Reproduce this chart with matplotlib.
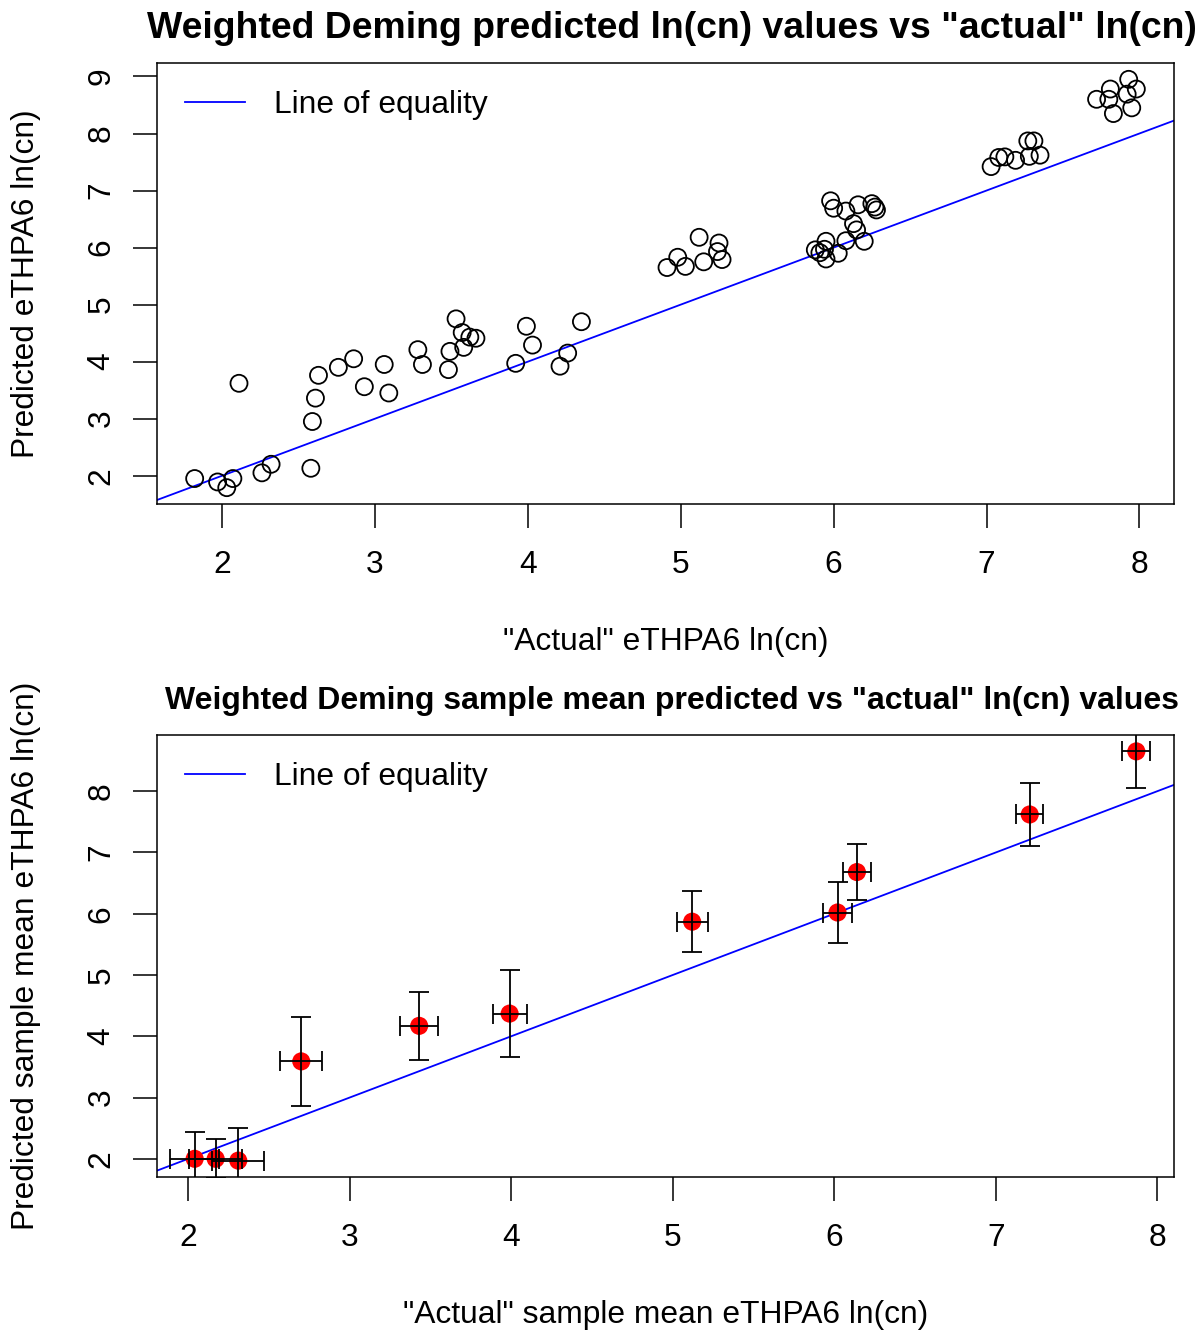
import numpy as np
import matplotlib.pyplot as plt

plt.rcParams['font.family'] = ['Liberation Sans', 'DejaVu Sans']

# top panel: individual predictions vs "actual" ln(cn)
actual_ln = [1.82, 1.97, 2.03, 2.07, 2.11, 2.26, 2.32, 2.58, 2.59, 2.61, 2.63,
             2.76, 2.86, 2.93, 3.06, 3.09, 3.28, 3.31, 3.48, 3.49, 3.53, 3.57,
             3.58, 3.62, 3.66, 3.92, 3.99, 4.03, 4.21, 4.26, 4.35,
             4.91, 4.98, 5.03, 5.12, 5.15, 5.25, 5.24, 5.27,
             5.98, 6.00, 6.08, 6.16, 6.25, 6.27, 6.28, 6.13, 6.15, 6.20, 6.08,
             5.95, 5.88, 5.94, 5.95, 6.03, 5.91,
             7.03, 7.08, 7.12, 7.19, 7.27, 7.31, 7.28, 7.35,
             7.93, 7.98, 7.92, 7.95, 7.81, 7.80, 7.72, 7.83]
predicted_ln = [1.95, 1.89, 1.79, 1.95, 3.62, 2.05, 2.20, 2.13, 2.95, 3.36, 3.76,
                3.90, 4.05, 3.56, 3.95, 3.45, 4.21, 3.95, 3.86, 4.18, 4.75, 4.51,
                4.25, 4.43, 4.41, 3.97, 4.62, 4.29, 3.92, 4.15, 4.70,
                5.65, 5.83, 5.67, 6.18, 5.75, 6.08, 5.93, 5.79,
                6.82, 6.69, 6.64, 6.75, 6.77, 6.71, 6.66, 6.42, 6.31, 6.11, 6.12,
                6.11, 5.96, 5.97, 5.80, 5.90, 5.91,
                7.42, 7.58, 7.59, 7.53, 7.87, 7.87, 7.60, 7.62,
                8.95, 8.78, 8.69, 8.45, 8.78, 8.60, 8.60, 8.35]

# bottom panel: sample means with error bars
mean_actual = [2.04, 2.17, 2.31, 2.70, 3.43, 3.99, 5.12, 6.02, 6.14, 7.21, 7.87]
mean_pred = [2.00, 2.00, 1.97, 3.59, 4.17, 4.37, 5.87, 6.02, 6.68, 7.62, 8.65]
err_actual = [0.15, 0.165, 0.16, 0.13, 0.116, 0.106, 0.096, 0.087, 0.086, 0.085, 0.086]
err_pred = [0.44, 0.32, 0.53, 0.73, 0.55, 0.71, 0.50, 0.49, 0.45, 0.52, 0.60]

top_xticks = [2, 3, 4, 5, 6, 7, 8]
top_yticks = [2, 3, 4, 5, 6, 7, 8, 9]
bot_xticks = [2, 3, 4, 5, 6, 7, 8]
bot_yticks = [2, 3, 4, 5, 6, 7, 8]

W, H = 1203, 1330
fig = plt.figure(figsize=(W / 100, H / 100), dpi=100)

FS = 22.9
LW = 1.1


def px_axes(left, top, right, bottom):
    return fig.add_axes([left / W, 1 - bottom / H, (right - left) / W, (bottom - top) / H])


def r_limits(vals):
    lo, hi = min(vals), max(vals)
    pad = 0.04 * (hi - lo)
    return lo - pad, hi + pad


def style_axes(ax, xticks, yticks):
    ax.set_xticks(xticks)
    ax.set_yticks(yticks)
    for s in ax.spines.values():
        s.set_linewidth(LW)
    ax.tick_params(direction='out', length=17, width=LW, labelsize=FS, pad=16)
    ax.tick_params(axis='y', pad=12)
    plt.setp(ax.get_yticklabels(), rotation=90, va='center')


# ---- top panel
ax1 = px_axes(157, 63, 1174, 504)
ax1.scatter(actual_ln, predicted_ln, s=150, facecolors='none', edgecolors='black',
            linewidths=1.3, zorder=3)
ax1.axline((0, 0), slope=1, color='blue', lw=1.3, label='Line of equality', zorder=2)
ax1.set_xlim(*r_limits(actual_ln))
ax1.set_ylim(*r_limits(predicted_ln))
style_axes(ax1, top_xticks, top_yticks)
ax1.set_title('Weighted Deming predicted ln(cn) values vs "actual" ln(cn)',
              fontsize=26.9, fontweight='bold', pad=18, x=0.506)
ax1.set_xlabel('"Actual" eTHPA6 ln(cn)', fontsize=FS, labelpad=34)
ax1.set_ylabel('Predicted eTHPA6 ln(cn)', fontsize=FS, labelpad=33)
ax1.legend(loc='upper left', frameon=False, fontsize=FS, handlelength=1.9,
           handletextpad=0.9, borderpad=0, borderaxespad=0,
           bbox_to_anchor=(28 / 1017, 1 - 27 / 441))

# ---- bottom panel
ax2 = px_axes(157, 735, 1174, 1177)
ax2.scatter(mean_actual, mean_pred, s=170, color='red', edgecolors='none', zorder=3)
ax2.errorbar(mean_actual, mean_pred, xerr=err_actual, yerr=err_pred, fmt='none',
             ecolor='black', elinewidth=1.3, capsize=7, capthick=1.3, zorder=4)
ax2.axline((0, 0), slope=1, color='blue', lw=1.3, label='Line of equality', zorder=2)
ax2.set_xlim(*r_limits(mean_actual))
ax2.set_ylim(*r_limits(mean_pred))
style_axes(ax2, bot_xticks, bot_yticks)
ax2.set_title('Weighted Deming sample mean predicted vs "actual" ln(cn) values',
              fontsize=23, fontweight='bold', pad=19, x=0.506)
ax2.set_xlabel('"Actual" sample mean eTHPA6 ln(cn)', fontsize=FS, labelpad=34)
ax2.set_ylabel('Predicted sample mean eTHPA6 ln(cn)', fontsize=FS, labelpad=33)
ax2.legend(loc='upper left', frameon=False, fontsize=FS, handlelength=1.9,
           handletextpad=0.9, borderpad=0, borderaxespad=0,
           bbox_to_anchor=(28 / 1017, 1 - 27 / 442))

fig.savefig('out.png', dpi=100)
